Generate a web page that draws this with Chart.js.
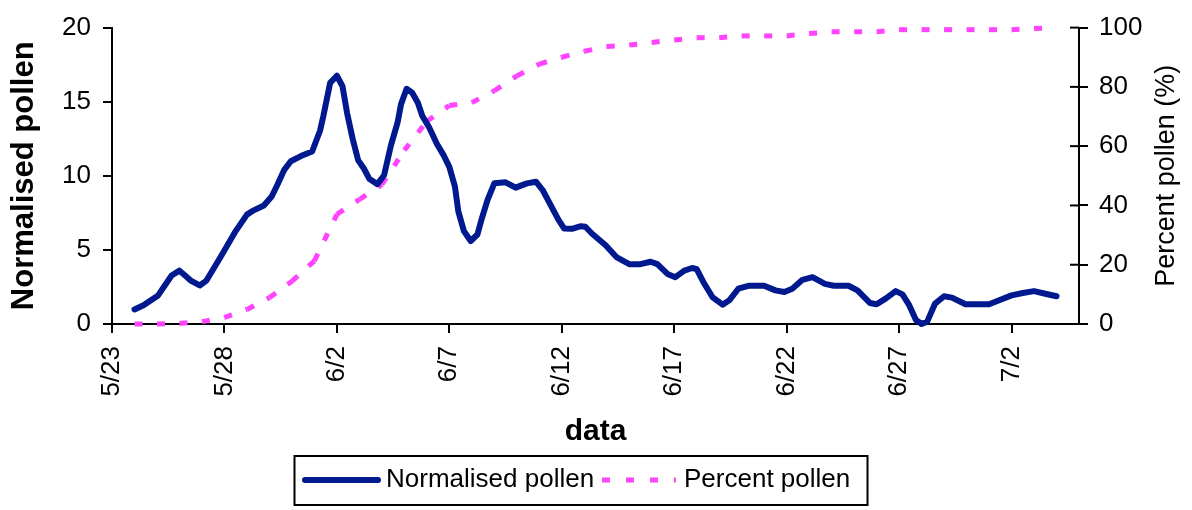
<!DOCTYPE html>
<html>
<head>
<meta charset="utf-8">
<script src="https://cdn.jsdelivr.net/npm/chart.js@4.4.0/dist/chart.umd.min.js"></script>
<style>
  html, body { margin: 0; padding: 0; background: #fff; }
  canvas { display: block; }
</style>
</head>
<body>
<canvas id="chart" width="1192" height="510"></canvas>
<script>
// Data --------------------------------------------------------------------
// x values are days after 5/23
const dateTicks = ['5/23', '5/28', '6/2', '6/7', '6/12', '6/17', '6/22', '6/27', '7/2'];

const pollenDays = [1.0, 1.4, 2.05, 2.65, 3.0, 3.25, 3.5, 3.9, 4.2, 4.9,
  5.5, 6.0, 6.3, 6.75, 7.1, 7.35, 7.65, 7.95, 8.4, 8.9,
  9.25, 9.4, 9.7, 10.0, 10.25, 10.45, 10.7, 10.95, 11.2, 11.45,
  11.8, 12.1, 12.4, 12.7, 12.85, 13.1, 13.35, 13.6, 13.8, 14.1,
  14.45, 14.75, 15.0, 15.25, 15.4, 15.65, 15.95, 16.25, 16.45, 16.7,
  17.0, 17.5, 17.95, 18.45, 18.85, 19.15, 19.5, 19.85, 20.1, 20.45,
  20.85, 21.05, 21.35, 21.95, 22.45, 23.0, 23.5, 23.95, 24.25, 24.7,
  25.05, 25.45, 25.8, 26.0, 26.3, 26.7, 27.15, 27.45, 27.85, 28.3,
  29.0, 29.5, 29.9, 30.25, 30.7, 31.15, 31.7, 32.1, 32.75, 33.15,
  33.7, 34.0, 34.4, 34.85, 35.15, 35.45, 35.75, 36.0, 36.25, 36.6,
  37.0, 37.35, 37.95, 38.55, 39.0, 39.45, 40.0, 40.5, 41.0, 41.5, 42.0];

const pollenValues = [0.98, 1.27, 1.93, 3.27, 3.6, 3.27, 2.93, 2.6, 2.93, 4.71,
  6.27, 7.38, 7.67, 8.0, 8.6, 9.38, 10.38, 10.98, 11.33, 11.64,
  13.04, 14.04, 16.27, 16.75, 16.04, 14.27, 12.5, 11.04, 10.49, 9.78,
  9.44, 10.04, 12.04, 13.6, 14.82, 15.87, 15.6, 14.93, 14.04, 13.27,
  12.15, 11.38, 10.6, 9.27, 7.6, 6.27, 5.6, 6.04, 7.15, 8.38,
  9.49, 9.56, 9.2, 9.49, 9.6, 9.04, 8.04, 7.04, 6.45, 6.42,
  6.6, 6.56, 6.09, 5.31, 4.49, 4.04, 4.04, 4.2, 4.04, 3.38,
  3.16, 3.6, 3.78, 3.7, 2.82, 1.82, 1.3, 1.6, 2.38, 2.58,
  2.58, 2.27, 2.16, 2.38, 2.98, 3.16, 2.71, 2.58, 2.58, 2.27,
  1.42, 1.33, 1.71, 2.22, 2.0, 1.27, 0.27, 0, 0.16, 1.38,
  1.87, 1.78, 1.33, 1.33, 1.33, 1.6, 1.93, 2.09, 2.22, 2.04, 1.87];

const percentDays = [1, 2, 3, 4, 5, 6, 7, 8, 9, 10,
  11, 12, 13, 14, 15, 16, 17, 18, 19, 20,
  21, 22, 23, 24, 25, 26, 27, 28, 29, 30,
  31, 32, 33, 34, 35, 36, 37, 38, 39, 40, 41, 42];

const percentValues = [0, 0, 0.2, 0.8, 2.2, 4.9, 8.9, 14.4, 21.3, 37,
  42, 47, 58.6, 68.4, 73.7, 74.7, 78.7, 83.7, 87.7, 90,
  92, 93.6, 94.1, 95, 95.8, 96.6, 96.6, 97.2, 97.2, 97.2,
  98, 98.6, 98.6, 98.6, 99.3, 99.3, 99.3, 99.3, 99.3, 99.3, 99.7, 100];

const leftTitle = 'Normalised pollen';
const rightTitle = 'Percent pollen (%)';
const xTitle = 'data';

// Styles -------------------------------------------------------------------
const FONT = '"Liberation Sans", Arial, sans-serif';
const NAVY = '#00198f';
const PINK = '#ff44ff';

Chart.defaults.font.family = FONT;
Chart.defaults.color = '#000';

const axisLine = { display: true, color: '#000', width: 2 };
const axisGrid = { drawOnChartArea: false, drawTicks: true, tickLength: 9, color: '#000', lineWidth: 2 };

// Extra drawing: crossing ticks on right axis, right title, boxed legend
const extras = {
  id: 'extras',
  afterDraw(chart) {
    const ctx = chart.ctx;
    const area = chart.chartArea;
    const y1 = chart.scales.y1;

    ctx.save();
    ctx.strokeStyle = '#000';
    ctx.lineWidth = 2;
    y1.ticks.forEach(t => {
      const py = y1.getPixelForValue(t.value);
      ctx.beginPath();
      ctx.moveTo(area.right - 9, py);
      ctx.lineTo(area.right, py);
      ctx.stroke();
    });

    // right axis title reads bottom to top
    ctx.translate(1167, (area.top + area.bottom) / 2);
    ctx.rotate(-Math.PI / 2);
    ctx.font = '27px ' + FONT;
    ctx.fillStyle = '#000';
    ctx.textAlign = 'center';
    ctx.textBaseline = 'middle';
    ctx.fillText(rightTitle, 0, 0);
    ctx.restore();

    // legend
    ctx.save();
    ctx.strokeStyle = '#000';
    ctx.lineWidth = 2;
    ctx.strokeRect(294.5, 456, 573, 49);
    const items = [
      { from: 305, to: 378, textX: 386 },
      { from: 602, to: 676, textX: 684 }
    ];
    chart.data.datasets.forEach((ds, i) => {
      const it = items[i];
      ctx.beginPath();
      ctx.strokeStyle = ds.borderColor;
      ctx.lineWidth = ds.borderWidth;
      ctx.lineCap = ds.borderCapStyle || 'butt';
      ctx.setLineDash(ds.borderDash ? [8, 16] : []);
      ctx.moveTo(it.from, 480);
      ctx.lineTo(it.to, 480);
      ctx.stroke();
      ctx.setLineDash([]);
      ctx.font = '26px ' + FONT;
      ctx.fillStyle = '#000';
      ctx.textAlign = 'left';
      ctx.textBaseline = 'alphabetic';
      ctx.fillText(ds.label, it.textX, 487);
    });
    ctx.restore();
  }
};

const ctx = document.getElementById('chart').getContext('2d');
new Chart(ctx, {
  type: 'line',
  data: {
    datasets: [{
      label: 'Normalised pollen',
      data: pollenDays.map((d, i) => ({ x: d, y: pollenValues[i] })),
      yAxisID: 'y',
      borderColor: NAVY,
      borderWidth: 6,
      borderCapStyle: 'round',
      borderJoinStyle: 'round',
      pointRadius: 0,
      tension: 0,
      clip: false
    }, {
      label: 'Percent pollen',
      data: percentDays.map((d, i) => ({ x: d, y: percentValues[i] })),
      yAxisID: 'y1',
      borderColor: PINK,
      borderWidth: 5,
      borderDash: [8, 14.5],
      pointRadius: 0,
      tension: 0,
      clip: false,
      // restart the dash pattern at every point, like the original
      segment: { borderDashOffset: c => (c.p0DataIndex % 2 ? 0 : -0.001) }
    }]
  },
  options: {
    responsive: false,
    animation: false,
    devicePixelRatio: 1,
    layout: { padding: { top: 24, bottom: 60, left: 0, right: 0 } },
    plugins: { legend: { display: false }, tooltip: { enabled: false } },
    scales: {
      x: {
        type: 'linear',
        position: 'bottom',
        min: 0,
        max: 43,
        border: axisLine,
        grid: axisGrid,
        ticks: {
          stepSize: 5,
          includeBounds: false,
          autoSkip: false,
          minRotation: 90,
          maxRotation: 90,
          padding: 13,
          font: { size: 26 },
          callback: v => dateTicks[v / 5]
        },
        title: { display: true, text: xTitle, font: { size: 30, weight: 'bold' }, padding: { top: 0, bottom: 0 } },
        afterFit: s => { s.height = 126; }
      },
      y: {
        position: 'left',
        min: 0,
        max: 20,
        border: axisLine,
        grid: axisGrid,
        ticks: { stepSize: 5, padding: 12, font: { size: 26 } },
        title: { display: true, text: leftTitle, font: { size: 31, weight: 'bold' }, padding: { top: 6, bottom: 0 } },
        afterFit: s => { s.width = 112; }
      },
      y1: {
        position: 'right',
        min: 0,
        max: 100,
        border: axisLine,
        grid: axisGrid,
        ticks: { stepSize: 20, padding: 11, font: { size: 26 } },
        afterFit: s => { s.width = 113; }
      }
    }
  },
  plugins: [extras]
});
</script>
</body>
</html>
